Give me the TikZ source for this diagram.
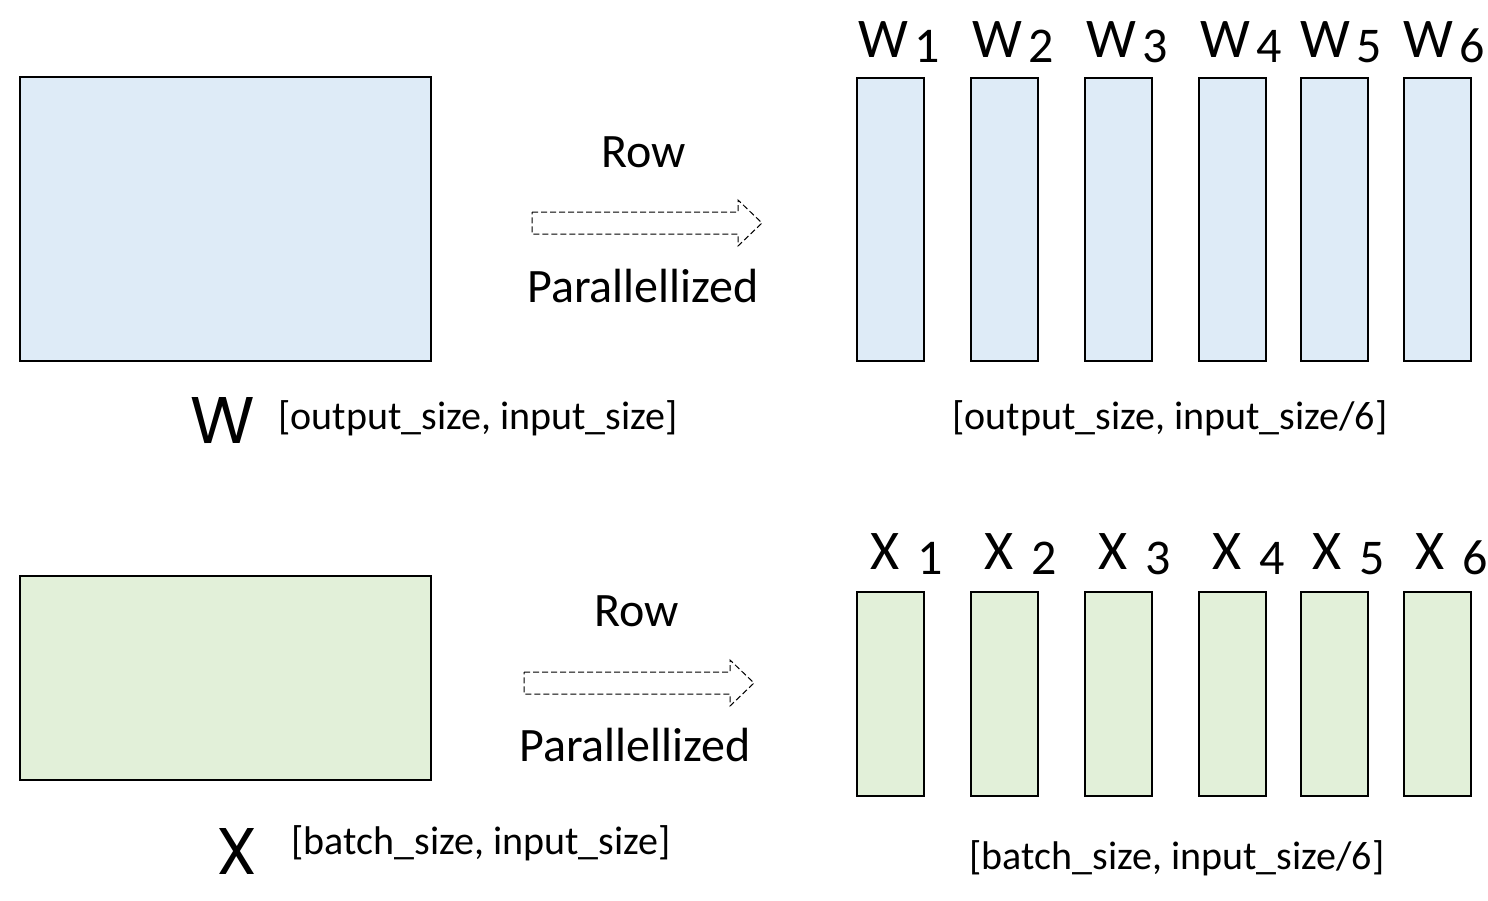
\documentclass[tikz,border=0pt]{standalone}
\usepackage{fontspec}
\setmainfont{Carlito}
\newfontfamily\bigfont{Poppins}
\definecolor{wblue}{HTML}{DEEBF7}
\definecolor{xgreen}{HTML}{E2F0D9}
\tikzset{
  bigrect/.style={draw=black, line width=1pt},
  slice/.style={draw=black, line width=0.9pt},
  lbl/.style={font=\fontsize{20}{24}\selectfont, inner sep=0pt},
  rowtxt/.style={font=\fontsize{24}{28}\selectfont, inner sep=0pt},
  sub/.style={font=\fontsize{28}{34}\selectfont, inner sep=0pt},
  biglet/.style={font=\bigfont\fontsize{33}{38}\selectfont, inner sep=0pt},
  parrow/.style={draw=black, line width=0.5pt, dash pattern=on 3pt off 1.5pt, fill=white}
}
\newcommand{\wsub}[2]{#1\raisebox{-2.5pt}{\kern0.1em\fontsize{25}{30}\selectfont #2}}
\begin{document}
\begin{tikzpicture}[x=0.5pt,y=-0.5pt]
\useasboundingbox (0,0) rectangle (1488,900);
% W row
\draw[bigrect, fill=wblue] (20,77) rectangle (431,361);
\node[biglet] (Wbig) at (223,421) {W};
\node[lbl] (Wdim) at (478,418) {[output\_size, input\_size]};
\node[rowtxt] (row1) at (644,152) {Row};
\node[rowtxt] (par1) at (643,286) {Parallellized};
\draw[parrow] (532,212) -- (738,212) -- (738,200) -- (762,223) -- (738,246) -- (738,234) -- (532,234) -- cycle;
\foreach \i/\x in {1/857,2/971,3/1085,4/1199,5/1301,6/1404}{
  \draw[slice, fill=wblue] (\x,78) rectangle ++(67,283);
}
\node[sub] (w1) at (899,42) {\wsub{W}{1}};
\node[sub] (w2) at (1013,42) {\wsub{W}{2}};
\node[sub] (w3) at (1127,42) {\wsub{W}{3}};
\node[sub] (w4) at (1241,42) {\wsub{W}{4}};
\node[sub] (w5) at (1341,42) {\wsub{W}{5}};
\node[sub] (w6) at (1444,42) {\wsub{W}{6}};
\node[lbl] (Wsdim) at (1170,418) {[output\_size, input\_size/6]};
% X row
\draw[bigrect, fill=xgreen] (20,576) rectangle (431,780);
\node[biglet] (Xbig) at (237,851) {X};
\node[lbl] (Xdim) at (481,843) {[batch\_size, input\_size]};
\node[rowtxt] (row2) at (637,611) {Row};
\node[rowtxt] (par2) at (635,745) {Parallellized};
\draw[parrow] (524,672) -- (730,672) -- (730,660) -- (754,683) -- (730,706) -- (730,694) -- (524,694) -- cycle;
\foreach \i/\x in {1/857,2/971,3/1085,4/1199,5/1301,6/1404}{
  \draw[slice, fill=xgreen] (\x,592) rectangle ++(67,204);
}
\node[sub] (x1) at (907,554) {\wsub{X}{\kern0.25em 1}};
\node[sub] (x2) at (1021,554) {\wsub{X}{\kern0.25em 2}};
\node[sub] (x3) at (1135,554) {\wsub{X}{\kern0.25em 3}};
\node[sub] (x4) at (1249,554) {\wsub{X}{\kern0.25em 4}};
\node[sub] (x5) at (1349,554) {\wsub{X}{\kern0.25em 5}};
\node[sub] (x6) at (1452,554) {\wsub{X}{\kern0.25em 6}};
\node[lbl] (Xsdim) at (1177,858) {[batch\_size, input\_size/6]};
\end{tikzpicture}
\end{document}
